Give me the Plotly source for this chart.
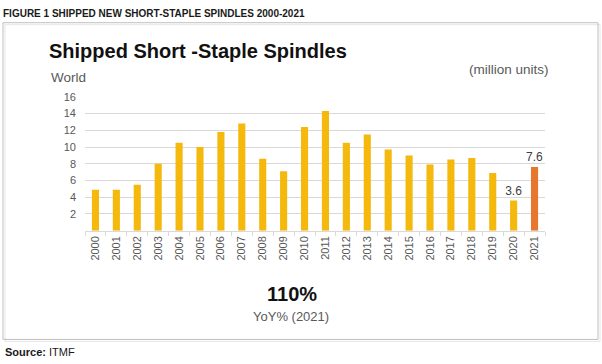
import plotly.graph_objects as go

years = [str(y) for y in range(2000, 2022)]
values = [4.9, 4.9, 5.5, 8.0, 10.5, 10.0, 11.8, 12.8, 8.6, 7.1, 12.4, 14.3,
          10.5, 11.5, 9.7, 9.0, 7.9, 8.5, 8.7, 6.9, 3.6, 7.6]
labels = ["" for _ in years]
labels[-2] = "3.6"
labels[-1] = "7.6"
y_ticks = [2, 4, 6, 8, 10, 12, 14, 16]

W, H = 602, 364
colors = ["#F5B80C"] * (len(years) - 1) + ["#E8772E"]

fig = go.Figure()
fig.add_trace(go.Bar(
    x=years, y=values, marker=dict(color=colors, line=dict(width=0)),
    width=0.34, text=labels, textposition="outside", constraintext="none",
    textfont=dict(family="Liberation Sans, Arial", size=12, color="#404040"),
    cliponaxis=False, hoverinfo="skip",
))

x0, x1 = 85 / W, 545 / W
y0, y1 = 1 - 228.5 / H, 1 - 92.3 / H

fig.update_layout(
    width=W, height=H, margin=dict(l=0, r=0, t=0, b=0),
    paper_bgcolor="white", plot_bgcolor="white", showlegend=False,
    font=dict(family="Liberation Sans, Arial", color="#595959"),
    xaxis=dict(domain=[x0, x1], type="category", tickangle=-90,
               tickfont=dict(size=11, color="#595959"),
               showline=True, linecolor="#d9d9d9", linewidth=1,
               ticks="outside", ticklen=4, tickcolor="#d9d9d9",
               tickson="boundaries", showgrid=False),
    yaxis=dict(domain=[y0, y1], range=[0, 16], tickvals=y_ticks,
               tickfont=dict(size=11, color="#595959"),
               showgrid=True, gridcolor="#d9d9d9", gridwidth=1,
               zeroline=False, showline=False, ticks="", ticklabelstandoff=8),
    bargap=0.66,
)

def txt(x, y, s, size, color, bold=False, family="Liberation Sans, Arial", xanchor="left"):
    fig.add_annotation(x=x / W, y=1 - y / H, xref="paper", yref="paper",
                       text=f"<b>{s}</b>" if bold else s, showarrow=False,
                       xanchor=xanchor, yanchor="middle",
                       font=dict(size=size, color=color, family=family))

# frame (with faint shadow line on right/bottom)
fig.add_shape(type="rect", xref="paper", yref="paper",
              x0=5 / W, x1=600 / W, y0=1 - 341 / H, y1=1 - 19 / H,
              line=dict(color="#e6e6e6", width=1))
fig.add_shape(type="rect", xref="paper", yref="paper",
              x0=3 / W, x1=598 / W, y0=1 - 339 / H, y1=1 - 17 / H,
              line=dict(color="#bfbfbf", width=1))

txt(1, 8, "FIGURE 1 SHIPPED NEW SHORT-STAPLE SPINDLES 2000-2021", 10, "#1a1a1a",
    bold=True, family="Liberation Sans Narrow, Arial Narrow, Liberation Sans")
txt(47, 46, "Shipped Short -Staple Spindles", 20, "#111111", bold=True)
txt(49, 73, "World", 13.5, "#595959")
txt(551, 65, "(million units)", 13.5, "#595959", xanchor="right")
txt(292, 293, "110%", 20, "#111111", bold=True, xanchor="center")
txt(291, 316, "YoY% (2021)", 13, "#595959", xanchor="center")
txt(3, 352, "<b>Source:</b> ITMF", 11, "#1a1a1a",
    family="Liberation Sans Narrow, Arial Narrow, Liberation Sans")

fig.write_html("out.html", config={"displayModeBar": False}, post_script=(
    "document.body.style.margin='0';document.body.style.padding='0';"
    "document.body.style.overflow='hidden';"
    "document.documentElement.style.overflow='hidden';"))
